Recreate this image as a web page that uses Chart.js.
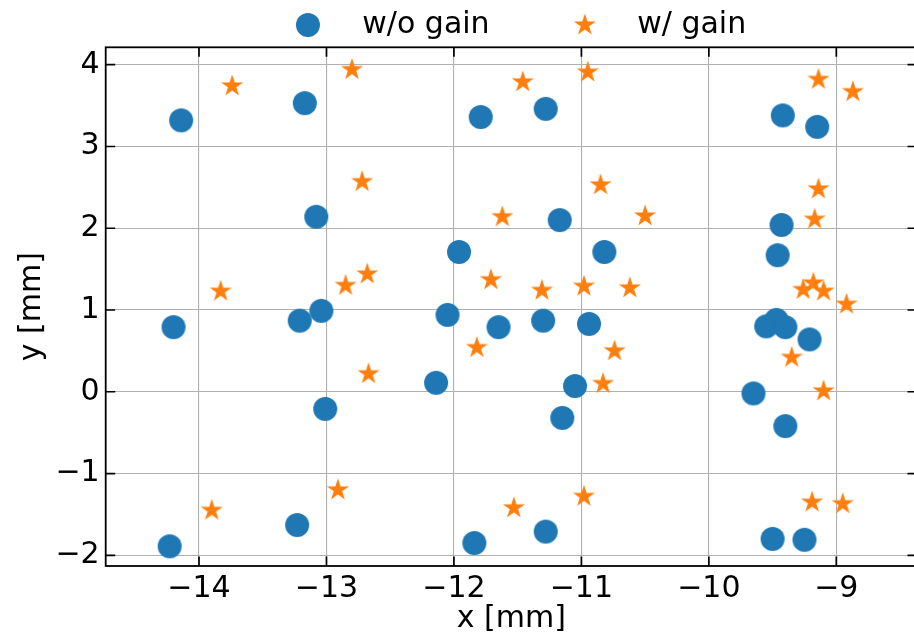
<!DOCTYPE html>
<html>
<head>
<meta charset="utf-8">
<title>Scan positions</title>
<script src="https://cdn.jsdelivr.net/npm/chart.js@4.4.1/dist/chart.umd.min.js"></script>
<style>
html, body { margin: 0; padding: 0; background: #fff; overflow: hidden; }
#wrap { width: 914px; height: 638px; overflow: hidden; }
</style>
</head>
<body>
<!-- the canvas runs a few px past the right edge so the right spine sits just outside -->
<div id="wrap"><canvas id="scanChart" width="917" height="638"></canvas></div>
<script>

// ===== Data =====

const woGainX = [-14.14, -13.17, -13.08, -13.04, -13.21, -14.20, -13.01, -13.23, -14.23,
                 -11.79, -11.28, -11.17, -11.96, -10.82, -12.05, -11.65, -11.30, -10.94,
                 -12.14, -11.05, -11.15, -11.28, -11.84,
                 -9.42, -9.15, -9.43, -9.46, -9.55, -9.47, -9.40, -9.21, -9.65, -9.40, -9.50, -9.25];
const woGainY = [3.32, 3.53, 2.14, 0.99, 0.87, 0.79, -0.21, -1.63, -1.89,
                 3.36, 3.46, 2.10, 1.71, 1.71, 0.94, 0.79, 0.87, 0.83,
                 0.11, 0.07, -0.32, -1.71, -1.85,
                 3.38, 3.24, 2.04, 1.67, 0.80, 0.88, 0.79, 0.64, -0.02, -0.42, -1.80, -1.81];

const wGainX = [-13.74, -12.80, -12.72, -13.83, -12.85, -12.68, -12.67, -12.91, -13.90,
                -11.46, -10.95, -10.85, -11.62, -10.50, -11.71, -11.31, -10.98, -10.62,
                -11.82, -10.74, -10.83, -10.98, -11.53,
                -9.14, -8.87, -9.14, -9.17, -9.26, -9.18, -9.10, -8.92, -9.35, -9.10, -9.19, -8.95];
const wGainY = [3.74, 3.94, 2.57, 1.23, 1.30, 1.44, 0.22, -1.20, -1.45,
                3.79, 3.91, 2.53, 2.14, 2.15, 1.37, 1.24, 1.29, 1.27,
                0.54, 0.50, 0.10, -1.28, -1.42,
                3.82, 3.67, 2.48, 2.11, 1.25, 1.33, 1.23, 1.07, 0.42, 0.01, -1.35, -1.37];

const seriesNames = ["w/o gain", "w/ gain"];
const xTicks = [-14, -13, -12, -11, -10, -9];
const yTicks = [-2, -1, 0, 1, 2, 3, 4];
const xRange = [-14.732, -8.367];
const yRange = [-2.131, 4.213];


// ===== Style =====

const BLUE = "#1f77b4";
const ORANGE = "#ff7f0e";
const FONT = "'DejaVu Sans', sans-serif";
const FONT_SIZE = 30;

Chart.defaults.font.family = FONT;
Chart.defaults.color = "#000";


// ===== Markers =====

function makeDot(r, color) {
    const c = document.createElement("canvas");
    const s = Math.ceil(r * 2 + 2);
    c.width = c.height = s;
    const g = c.getContext("2d");
    g.fillStyle = color;
    g.beginPath();
    g.arc(s / 2, s / 2, r, 0, Math.PI * 2);
    g.fill();
    return c;
}

function makeStar(R, color) {
    const c = document.createElement("canvas");
    const s = Math.ceil(R * 2 + 2);
    c.width = c.height = s;
    const g = c.getContext("2d");
    const inner = R * 0.381966;
    g.fillStyle = color;
    g.beginPath();
    for (let i = 0; i < 10; i++) {
        const rad = i % 2 ? inner : R;
        const a = -Math.PI / 2 + i * Math.PI / 5;
        const px = s / 2 + rad * Math.cos(a);
        const py = s / 2 + rad * Math.sin(a);
        if (i === 0) g.moveTo(px, py); else g.lineTo(px, py);
    }
    g.closePath();
    g.fill();
    return c;
}

// legend swatch: same marker, nudged left inside a wider canvas
function nudgeLeft(img, d) {
    const c = document.createElement("canvas");
    c.width = img.width + 2 * d;
    c.height = img.height;
    c.getContext("2d").drawImage(img, 0, 0);
    return c;
}

const dot = makeDot(12, BLUE);
const star = makeStar(11.6, ORANGE);
const dotKey = nudgeLeft(dot, 4);
const starKey = nudgeLeft(star, 2);

const toPoints = (xs, ys) => xs.map((x, i) => ({ x: x, y: ys[i] }));
const fmt = v => (v < 0 ? "\u2212" + Math.abs(v) : String(v));


// ===== Frame and inward ticks =====

const frame = {
    id: "frame",
    afterDatasetsDraw(chart) {
        const { ctx, chartArea: a, scales: { x, y } } = chart;
        const len = 9.5;
        ctx.save();
        ctx.strokeStyle = "#000";
        ctx.lineWidth = 1.8;
        ctx.strokeRect(a.left, a.top, a.right - a.left, a.bottom - a.top);
        ctx.lineWidth = 1.7;
        ctx.beginPath();
        x.ticks.forEach(t => {
            const px = x.getPixelForValue(t.value);
            ctx.moveTo(px, a.bottom); ctx.lineTo(px, a.bottom - len);
            ctx.moveTo(px, a.top); ctx.lineTo(px, a.top + len);
        });
        y.ticks.forEach(t => {
            const py = y.getPixelForValue(t.value);
            ctx.moveTo(a.left, py); ctx.lineTo(a.left + len, py);
            ctx.moveTo(a.right, py); ctx.lineTo(a.right - len, py);
        });
        ctx.stroke();
        ctx.restore();
    }
};


// ===== Chart =====

new Chart(document.getElementById("scanChart"), {

    type: "scatter",

    data: {
        datasets: [{
            label: seriesNames[0],
            data: toPoints(woGainX, woGainY),
            pointStyle: dot,
            pointRadius: 12,
            pointHoverRadius: 12,
            backgroundColor: BLUE,
            borderWidth: 0,
            order: 1
        }, {
            label: seriesNames[1],
            data: toPoints(wGainX, wGainY),
            pointStyle: star,
            pointRadius: 12,
            pointHoverRadius: 12,
            backgroundColor: ORANGE,
            borderWidth: 0,
            order: 0
        }]
    },

    options: {
        responsive: false,
        animation: false,
        devicePixelRatio: 1,
        layout: {
            autoPadding: false,
            padding: { top: -51.8, right: 0, left: 0, bottom: 0 }
        },
        plugins: {
            tooltip: { enabled: false },
            legend: {
                position: "top",
                fullSize: false,
                maxHeight: 99.1,
                labels: {
                    usePointStyle: true,
                    pointStyleWidth: 70.8,
                    padding: 61.8,
                    color: "#000",
                    font: { size: FONT_SIZE },
                    generateLabels: () => [
                        { text: seriesNames[0], pointStyle: dotKey, fillStyle: BLUE, strokeStyle: BLUE, lineWidth: 0, datasetIndex: 0 },
                        { text: seriesNames[1], pointStyle: starKey, fillStyle: ORANGE, strokeStyle: ORANGE, lineWidth: 0, datasetIndex: 1 }
                    ]
                }
            }
        },
        scales: {
            x: {
                type: "linear",
                min: xRange[0],
                max: xRange[1],
                afterBuildTicks: s => { s.ticks = xTicks.map(v => ({ value: v })); },
                afterFit: s => { s.height = 72; s.paddingLeft = 0; s.paddingRight = 0; },
                grid: { color: "#b0b0b0", lineWidth: 1.1, drawTicks: false },
                border: { display: false },
                ticks: { font: { size: FONT_SIZE }, padding: 5, maxRotation: 0, callback: fmt },
                title: { display: true, text: "x [mm]", font: { size: FONT_SIZE }, padding: { top: 0, bottom: 1 } }
            },
            y: {
                type: "linear",
                min: yRange[0],
                max: yRange[1],
                afterBuildTicks: s => { s.ticks = yTicks.map(v => ({ value: v })); },
                afterFit: s => { s.width = 105.7; },
                grid: { color: "#b0b0b0", lineWidth: 1.1, drawTicks: false },
                border: { display: false },
                ticks: { font: { size: FONT_SIZE }, padding: 6, callback: fmt },
                title: { display: true, text: "y [mm]", font: { size: FONT_SIZE }, padding: { top: 14, bottom: 0 } }
            }
        }
    },

    plugins: [frame]

});

</script>
</body>
</html>
